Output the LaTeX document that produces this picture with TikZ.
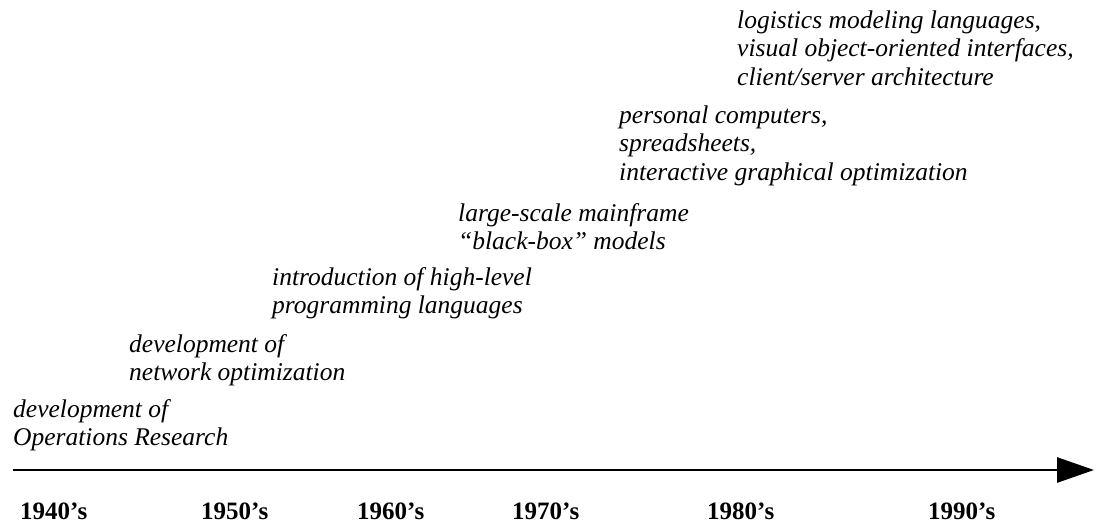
\documentclass[tikz,border=0pt]{standalone}
\usepackage{fontspec}
\setmainfont{Liberation Serif}
\usetikzlibrary{arrows.meta}
\tikzset{
  event/.style={anchor=base west, inner sep=0pt, align=left,
    font=\fontsize{25.5}{28.5}\selectfont\itshape},
  decade/.style={anchor=base west, inner sep=0pt,
    font=\fontsize{25}{30}\selectfont\bfseries},
  axisline/.style={line width=2.8pt, -{Triangle[length=37pt,width=25pt]}}
}
\begin{document}
\begin{tikzpicture}[x=1pt,y=-1pt]
\useasboundingbox (0,0) rectangle (1097,525);
% base anchor = baseline of the last line
\node[event] (ev6) at (737,85) {logistics modeling languages,\\visual object-oriented interfaces,\\client/server architecture};
\node[event] (ev5) at (619,180) {personal computers,\\spreadsheets,\\interactive graphical optimization};
\node[event] (ev4) at (458,249.5) {large-scale mainframe\\“black-box” models};
\node[event] (ev3) at (272,313.5) {introduction of high-level\\programming languages};
\node[event] (ev2) at (129,380.5) {development of\\network optimization};
\node[event] (ev1) at (13,445.5) {development of\\Operations Research};
\coordinate (axs) at (12.5,470);
\coordinate (axe) at (1094,470);
\draw[axisline] (axs) -- (axe);
\node[decade] (d40) at (20,519) {1940’s};
\node[decade] (d50) at (201,519) {1950’s};
\node[decade] (d60) at (357,519) {1960’s};
\node[decade] (d70) at (512,519) {1970’s};
\node[decade] (d80) at (707,519) {1980’s};
\node[decade] (d90) at (928,519) {1990’s};
\end{tikzpicture}
\end{document}
